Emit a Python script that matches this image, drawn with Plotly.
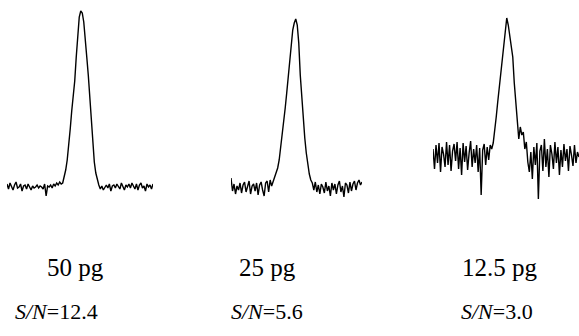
import plotly.graph_objects as go

# Detector response (height above baseline, arbitrary units) for each injection
signal_50pg = [3, -2, 4, 1, -3, 2, 5, -1, 0, 3, -4, 1, 2, -2, 3, 0, -3, 1, -1, 0,
               2, -1, 1, 0, -2, 3, -9, 1, 0, 2, -1, 3, 1, 4, 2, 5, 3, 4,
               10, 17, 27, 40, 58, 76, 90, 106, 130, 155, 170, 176, 174, 165, 150, 130,
               112, 90, 60, 42, 25, 14, 7, 2,
               -2, 1, -3, 0, 2, -1, 3, -4, 1, 2, -1, 3, 0, -2, 4, 1, -3, 2, 0, 3,
               -1, 4, 1, -2, 3, -3, 2, 4, -1, 1, -4, 3, 0, 2, -2, 3]

signal_25pg = [10, -3, 4, -6, 2, -2, 5, -5, 3, 6, -4, 1, 7, -6, 2, 4, -3, 5, -7, 3,
               6, -2, -8, 5, 7, -4, 8, 2, 6, 10,
               14, 20, 28, 40, 53, 65, 80, 95, 113, 130, 148, 158, 165, 169, 163, 145,
               113, 90, 65, 50, 35, 23, 14, 8,
               5, -2, 6, -4, 3, -6, 4, 1, -5, 6, -3, 2, -8, 5, -2, 4, -6, 3, 7, -4,
               2, -9, 5, 3, -5, 6, -3, 4, 7, -2, 5, 8, 3, 6]

signal_12_5pg = [8, -12, 12, -6, 14, -15, 10, 3, -10, 15, -8, 12, -14, 6, 13, -4, 15, -12, 9, -18,
                 14, -5, 11, -13, 4, 16, -10, 8, -6, 12, -15, 9, -38, 7, 13, -8, 10, -3, 12,
                 8, 14, 25, 40, 55, 70, 85, 100, 112, 128, 139, 132, 122, 112, 100, 74,
                 52, 30, 18, 30, 22, 25, 8, 15, -5,
                 -15, 5, -22, 10, -8, 14, -42, 6, 12, -14, 18, -10, 8, -20, 12, 3, -12, 15, -6, 10,
                 -18, 7, -10, 13, -4, 8, -14, 11, 2, -9, 12, -6, 5, 0]

amounts = ["50 pg", "25 pg", "12.5 pg"]
sn_ratios = ["12.4", "5.6", "3.0"]

signals = [signal_50pg, signal_25pg, signal_12_5pg]
x_domains = [[7 / 579, 153 / 579], [231 / 579, 362 / 579], [433 / 579, 1.0]]
y_ranges = [[-149, 187], [-148, 188], [-179, 157]]
label_x = [75 / 579, 267 / 579, 500 / 579]
sn_x = [56 / 579, 267 / 579, 497 / 579]

SERIF = "Liberation Serif"

fig = go.Figure()
layout = dict(
    width=579, height=336,
    margin=dict(l=0, r=0, t=0, b=0),
    paper_bgcolor="white", plot_bgcolor="white",
    showlegend=False,
    font=dict(family=SERIF),
)
for k, sig in enumerate(signals):
    suffix = "" if k == 0 else str(k + 1)
    fig.add_trace(go.Scatter(
        x=list(range(len(sig))), y=sig, mode="lines",
        line=dict(color="black", width=1.4),
        xaxis="x" + suffix, yaxis="y" + suffix, hoverinfo="skip",
    ))
    layout["xaxis" + suffix] = dict(domain=x_domains[k], range=[0, len(sig) - 1],
                                    visible=False, anchor="y" + suffix)
    layout["yaxis" + suffix] = dict(domain=[0, 1], range=y_ranges[k],
                                    visible=False, anchor="x" + suffix)

annotations = []
for k in range(3):
    annotations.append(dict(x=label_x[k], y=1 - 267 / 336, xref="paper", yref="paper",
                            text=amounts[k], showarrow=False, xanchor="center", yanchor="middle",
                            font=dict(family=SERIF, size=25, color="black")))
    annotations.append(dict(x=sn_x[k], y=1 - 311 / 336, xref="paper", yref="paper",
                            text="<i>S/N</i>=" + sn_ratios[k], showarrow=False,
                            xanchor="center", yanchor="middle",
                            font=dict(family=SERIF, size=22, color="black")))
layout["annotations"] = annotations
fig.update_layout(**layout)
fig.write_html("out.html", config={"displayModeBar": False},
               post_script="document.body.style.margin='0';document.body.style.overflow='hidden';")
